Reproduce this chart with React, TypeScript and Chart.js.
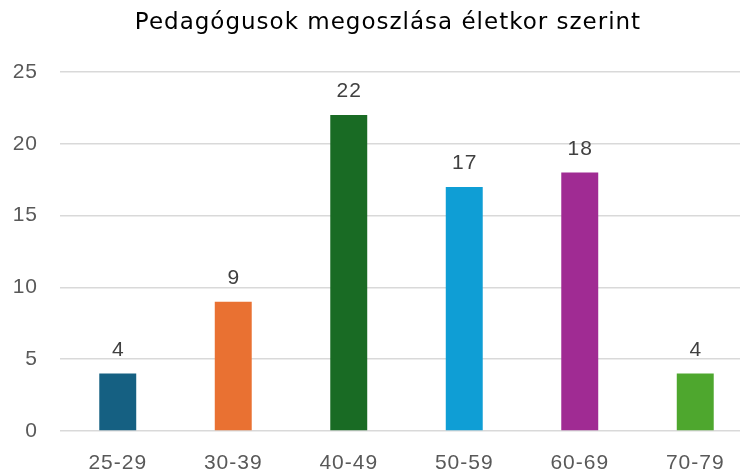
import React, { useEffect, useRef } from "react";
import { Chart, registerables } from "chart.js";

Chart.register(...registerables);

const TITLE = "Pedagógusok megoszlása életkor szerint";
const categories = ["25-29", "30-39", "40-49", "50-59", "60-69", "70-79"];
const values = [4, 9, 22, 17, 18, 4];
const barColors = ["#156082", "#E97132", "#196B24", "#0F9ED5", "#A02B93", "#4EA72E"];
const yMax = 25;
const yStep = 5;

const FONT = "'Liberation Sans', Arial, sans-serif";

const spacingPlugin = {
  id: "spacing",
  beforeDraw(chart: any) {
    chart.ctx.letterSpacing = "1px";
  },
};

const titlePlugin = {
  id: "customTitle",
  afterDraw(chart: any) {
    const ctx = chart.ctx;
    ctx.save();
    ctx.letterSpacing = "1px";
    ctx.font = "23px 'DejaVu Sans', sans-serif";
    ctx.fillStyle = "#000000";
    ctx.textAlign = "center";
    ctx.textBaseline = "alphabetic";
    ctx.fillText(TITLE, 388, 29);
    ctx.restore();
  },
};

const labelPlugin = {
  id: "valueLabels",
  afterDatasetsDraw(chart: any) {
    const ctx = chart.ctx;
    const meta = chart.getDatasetMeta(0);
    ctx.save();
    ctx.letterSpacing = "1px";
    ctx.font = "21px " + FONT;
    ctx.fillStyle = "#404040";
    ctx.textAlign = "center";
    ctx.textBaseline = "alphabetic";
    meta.data.forEach((bar: any, i: number) => {
      ctx.fillText(String(chart.data.datasets[0].data[i]), bar.x + 0.5, bar.y - 18);
    });
    ctx.restore();
  },
};

export default function App() {
  const ref = useRef<HTMLCanvasElement>(null);
  useEffect(() => {
    document.body.style.margin = "0";
    document.body.style.overflow = "hidden";
    const chart = new Chart(ref.current!, {
      type: "bar",
      data: {
        labels: categories,
        datasets: [
          {
            data: values,
            backgroundColor: barColors,
            categoryPercentage: 1,
            barPercentage: 0.32,
          },
        ],
      },
      options: {
        animation: false,
        responsive: false,
        layout: { padding: { top: 72, right: 0, left: 0, bottom: 0 } },
        plugins: { legend: { display: false }, title: { display: false }, tooltip: { enabled: false } },
        scales: {
          x: {
            grid: { display: false },
            border: { display: false },
            ticks: {
              color: "#595959",
              font: { family: FONT, size: 21 },
              padding: 12,
              maxRotation: 0,
            },
            afterFit(scale: any) {
              scale.height = 41;
            },
          },
          y: {
            min: 0,
            max: yMax,
            grid: { color: "#D9D9D9", lineWidth: 1.5, drawTicks: false },
            border: { display: false },
            ticks: {
              stepSize: yStep,
              color: "#595959",
              font: { family: FONT, size: 21 },
              padding: 22,
            },
            afterFit(scale: any) {
              scale.width = 60;
            },
          },
        },
      },
      plugins: [spacingPlugin, titlePlugin, labelPlugin],
    });
    return () => chart.destroy();
  }, []);
  return (
    <div style={{ width: 740, height: 472, overflow: "hidden", background: "#fff" }}>
      <canvas ref={ref} width={753} height={472} style={{ display: "block" }} />
    </div>
  );
}
